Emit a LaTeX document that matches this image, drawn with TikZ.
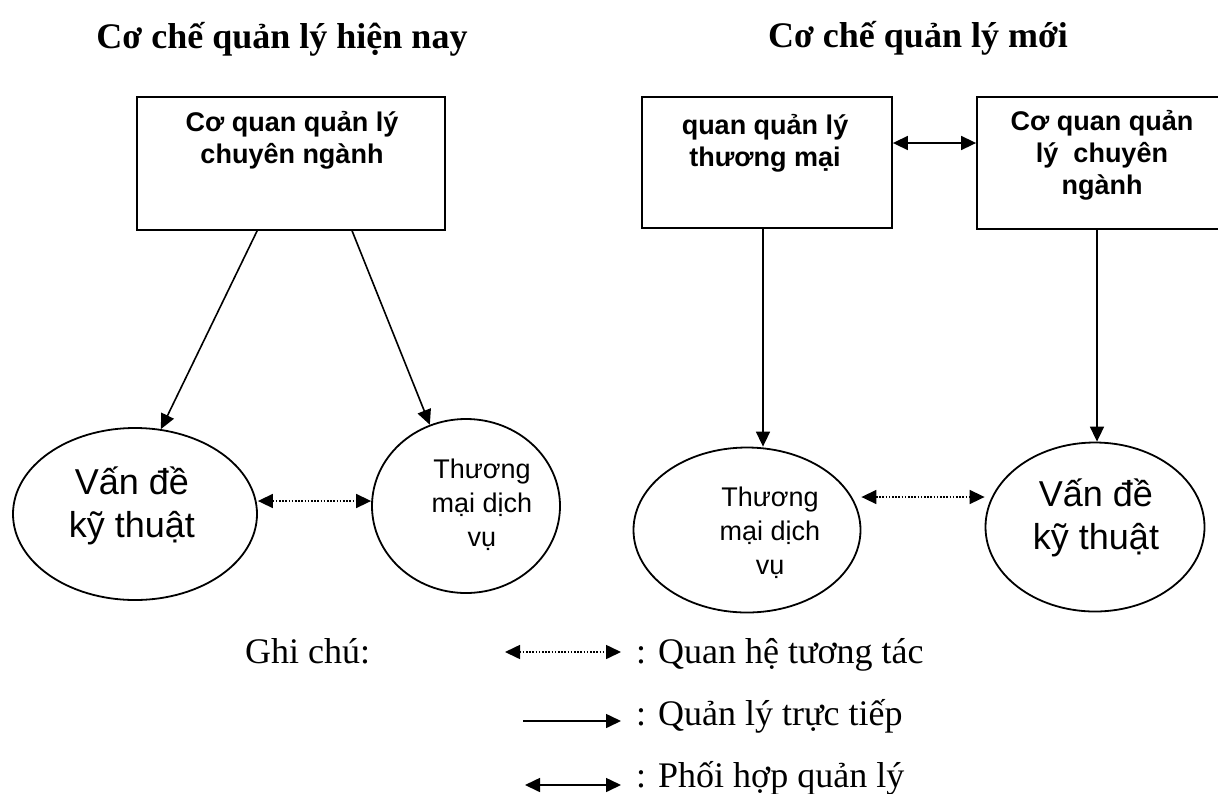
\documentclass[tikz,border=0pt]{standalone}
\usepackage{fontspec}
\setmainfont{Liberation Serif}
\newfontfamily\arialfont{Liberation Sans}
\usetikzlibrary{arrows.meta,shapes.geometric}
\tikzset{
  boxnode/.style={draw,line width=1.8pt,inner sep=0pt},
  ovalnode/.style={draw,ellipse,line width=1.8pt,inner sep=0pt},
  boxtext/.style={inner sep=0pt,align=center,font=\arialfont\bfseries\fontsize{27}{32}\selectfont},
  ovalbig/.style={inner sep=0pt,align=center,font=\arialfont\fontsize{36}{43}\selectfont},
  ovalsmall/.style={inner sep=0pt,align=center,font=\arialfont\fontsize{27}{34}\selectfont},
  legendtext/.style={anchor=base west,inner sep=0pt,font=\fontsize{36}{40}\selectfont},
  direct/.style={line width=1.6pt,-{Triangle[length=15pt,width=14pt]}},
  mutual/.style={line width=1.6pt,{Triangle[length=15pt,width=14pt]}-{Triangle[length=15pt,width=14pt]}},
  interact/.style={line width=1.6pt,dash pattern=on 1.6pt off 1.6pt,
    {Triangle[length=15pt,width=14pt]}-{Triangle[length=15pt,width=14pt]}}
}
\begin{document}
\begin{tikzpicture}[x=1pt,y=-1pt]
  \useasboundingbox (0,0) rectangle (1218,793);
  % titles
  \node[anchor=base,inner sep=0pt,font=\bfseries\fontsize{36}{40}\selectfont] (titL) at (282,48) {Cơ chế quản lý hiện nay};
  \node[anchor=base,inner sep=0pt,font=\bfseries\fontsize{36}{40}\selectfont] (titR) at (918,47) {Cơ chế quản lý mới};
  % boxes
  \node[boxnode,minimum width=308pt,minimum height=133pt] (cqL) at (291,163.5) {};
  \node[boxtext] (cqLt) at (292,140) {Cơ quan quản lý\\chuyên ngành};
  \node[boxnode,minimum width=250pt,minimum height=131pt] (cqA) at (767,162.5) {};
  \node[boxtext] (cqAt) at (765,143) {quan quản lý\\thương mại};
  \node[boxnode,minimum width=250pt,minimum height=132pt] (cqB) at (1102,163) {};
  \node[boxtext] (cqBt) at (1102,155) {Cơ quan quản\\lý~ chuyên\\ngành};
  % ovals
  \node[ovalnode,minimum width=244pt,minimum height=172pt] (vdL) at (135,514) {};
  \node[ovalbig] (vdLt) at (132,506) {Vấn đề\\kỹ thuật};
  \node[ovalnode,minimum width=188pt,minimum height=174pt] (tmL) at (466,506) {};
  \node[ovalsmall] (tmLt) at (482,505) {Thương\\mại dịch\\vụ};
  \node[ovalnode,minimum width=227pt,minimum height=165pt] (tmR) at (747,530) {};
  \node[ovalsmall] (tmRt) at (770,533) {Thương\\mại dịch\\vụ};
  \node[ovalnode,minimum width=219pt,minimum height=169pt] (vdR) at (1095,527) {};
  \node[ovalbig] (vdRt) at (1096,518) {Vấn đề\\kỹ thuật};
  % connectors
  \draw[direct] ([xshift=121pt]cqL.south west) -- (vdL.73);
  \draw[direct] ([xshift=216pt]cqL.south west) -- (tmL.114);
  \draw[interact] ([yshift=13pt]vdL.east) -- ([yshift=13pt]vdL.east -| tmL.west);
  \draw[mutual] ([yshift=19.5pt]cqA.east) -- ([yshift=19.5pt]cqA.east -| cqB.west);
  \draw[direct] ([xshift=-4pt]cqA.south) -- ([xshift=-4pt]cqA.south |- tmR.north);
  \draw[direct] ([xshift=-5pt]cqB.south) -- ([xshift=-5pt]cqB.south |- vdR.north);
  \draw[interact] ([yshift=33pt]tmR.east) -- ([yshift=33pt]tmR.east -| vdR.west);
  % legend
  \node[legendtext] (gc) at (245,663) {Ghi chú:};
  \node[legendtext] (lg1) at (636,663) {: Quan hệ tương tác};
  \node[legendtext] (lg2) at (636,725) {: Quản lý trực tiếp};
  \node[legendtext] (lg3) at (636,787) {: Phối hợp quản lý};
  \coordinate (l1a) at (505,652);
  \coordinate (l1b) at (621,652);
  \coordinate (l2a) at (523,721);
  \coordinate (l2b) at (621,721);
  \coordinate (l3a) at (525,785);
  \coordinate (l3b) at (621,785);
  \draw[interact] (l1a) -- (l1b);
  \draw[direct] (l2a) -- (l2b);
  \draw[mutual] (l3a) -- (l3b);
\end{tikzpicture}
\end{document}
